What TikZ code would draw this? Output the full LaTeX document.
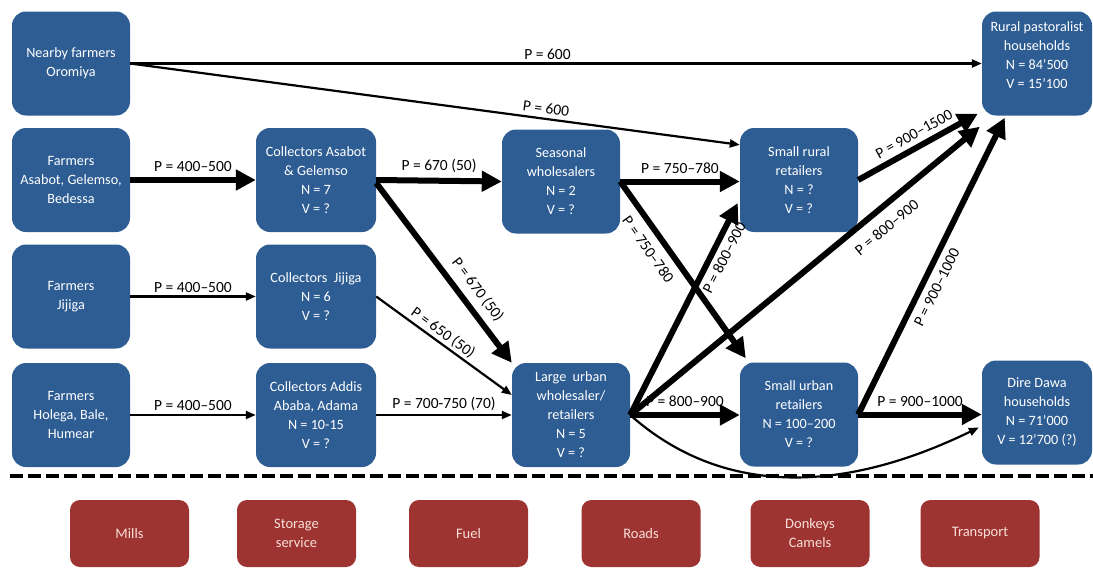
\documentclass[tikz,border=0pt]{standalone}
\usepackage{fontspec}
\setmainfont{Carlito}
\usetikzlibrary{arrows.meta,calc}
\definecolor{boxblue}{RGB}{46,93,148}
\definecolor{boxred}{RGB}{158,52,50}
\definecolor{redtext}{RGB}{248,222,216}
\begin{document}
\begin{tikzpicture}[x=1pt,y=-1pt,
  bluebox/.style={fill=boxblue, rounded corners=14pt, text=white, align=center, inner sep=0pt,
    minimum width=118pt, minimum height=104pt, font=\fontsize{14.2}{19}\selectfont},
  redbox/.style={fill=boxred, rounded corners=10pt, text=redtext, align=center, inner sep=0pt,
    minimum width=119pt, minimum height=67pt, font=\fontsize{14.5}{19}\selectfont},
  thinarrow/.style={line width=2.2pt, -{Triangle[length=10pt,width=8pt]}},
  thickarrow/.style={line width=6pt, -{Triangle[length=20pt,width=20pt]}},
  lbl/.style={font=\fontsize{15.5}{17}\selectfont, text=black, inner sep=2pt}
]
\useasboundingbox (0,0) rectangle (1093,570);

% blue nodes
\node[bluebox] (nf) at (71,63.5) {Nearby farmers\\Oromiya};
\node[bluebox] (fa) at (71,180) {Farmers\\Asabot, Gelemso,\\Bedessa};
\node[bluebox] (fj) at (71,296.5) {Farmers\\Jijiga};
\node[bluebox] (fh) at (71,415) {Farmers\\Holega, Bale,\\Humear};
\node[bluebox, minimum width=120pt] (ca) at (316,180) {Collectors Asabot\\\& Gelemso\\N = 7\\V = ?};
\node[bluebox, minimum width=120pt] (cj) at (316,296.5) {Collectors~ Jijiga\\N = 6\\V = ?};
\node[bluebox, minimum width=120pt] (cad) at (316,415) {Collectors Addis\\Ababa, Adama\\N = 10-15\\V = ?};
\node[bluebox] (sw) at (561,181.5) {Seasonal\\wholesalers\\N = 2\\V = ?};
\node[bluebox] (lu) at (571,415) {Large~ urban\\wholesaler/\\retailers\\N = 5\\V = ?};
\node[bluebox] (sr) at (799,180) {Small rural\\retailers\\N = ?\\V = ?};
\node[bluebox] (su) at (799,414.5) {Small urban\\retailers\\N = 100–200\\V = ?};
\node[bluebox, minimum width=110pt, text depth=17pt] (rp) at (1037,63.5) {Rural pastoralist\\households\\N = 84'500\\V = 15'100};
\node[bluebox, minimum width=110pt] (dd) at (1037,412.5) {Dire Dawa\\households\\N = 71'000\\V = 12'700 (?)};

% red nodes
\node[redbox] (mills) at (129.5,533.5) {Mills};
\node[redbox] (stor) at (296.5,533.5) {Storage\\service};
\node[redbox] (fuel) at (468.5,533.5) {Fuel};
\node[redbox] (roads) at (641,533.5) {Roads};
\node[redbox] (donk) at (810,533.5) {Donkeys\\Camels};
\node[redbox] (trans) at (980,533.5) {Transport};

% separator
\draw[line width=4pt, dash pattern=on 13pt off 5pt] (10,476) -- (1093,476);

% connectors
\draw[thinarrow] (nf.east) -- node[lbl, pos=0.49, above=1pt] {P = 600} (rp.west);
\draw[thinarrow] (nf.east) -- node[lbl, pos=0.68, sloped, above=2pt] {P = 600} ($(sr.north west)+(0,17)$);
\draw[thickarrow] (fa.east) -- node[lbl, midway, above=3pt] {P = 400–500} (ca.west);
\draw[thinarrow] (fj.east) -- node[lbl, midway, above=1pt] {P = 400–500} (cj.west);
\draw[thinarrow] (fh.east) -- node[lbl, midway, above=1pt] {P = 400–500} (cad.west);
\draw[thickarrow] (ca.east) -- node[lbl, midway, above=3pt] {P = 670 (50)} (sw.west);
\draw[thickarrow] ($(ca.east)+(0,3)$) -- node[lbl, pos=0.65, sloped, above=5pt] {P = 670 (50)} (lu.north west);
\draw[thinarrow] (cj.east) -- node[lbl, pos=0.45, sloped, above=0pt] {P = 650 (50)} ($(lu.west)+(0,-20)$);
\draw[thinarrow] (cad.east) -- node[lbl, midway, above=1pt] {P = 700-750 (70)} (lu.west);
\draw[thickarrow] (sw.east) -- node[lbl, midway, above=3pt] {P = 750–780} (sw.east -| sr.west);
\draw[thickarrow] (sw.east) -- node[lbl, pos=0.33, sloped, below=6pt] {P = 750–780} ($(su.north west)+(6,-4)$);
\draw[thickarrow] (lu.east) -- node[lbl, pos=0.77, sloped, below=2pt] {P = 800–900} ($(sr.west)+(-2,23)$);
\draw[thickarrow] (lu.east) -- node[lbl, pos=0.7, sloped, below=8pt] {P = 800–900} ($(rp.south west)+(-2,11)$);
\draw[thickarrow] (lu.east) -- node[lbl, midway, above=3pt] {P = 800–900} (lu.east -| su.west);
\draw[thinarrow] (lu.east) .. controls +(90,80) and +(-140,68) .. ($(dd.west)+(-3,15)$);
\draw[thickarrow] (su.east) -- node[lbl, midway, above=3pt] {P = 900–1000} (su.east -| dd.west);
\draw[thickarrow] (su.east) -- node[lbl, pos=0.45, sloped, below=4pt] {P = 900–1000} ($(rp.south west)+(23,2)$);
\draw[thickarrow] (sr.east) -- node[lbl, pos=0.52, sloped, above=3pt] {P = 900–1500} ($(rp.south west)+(-4,-2)$);
\end{tikzpicture}
\end{document}
